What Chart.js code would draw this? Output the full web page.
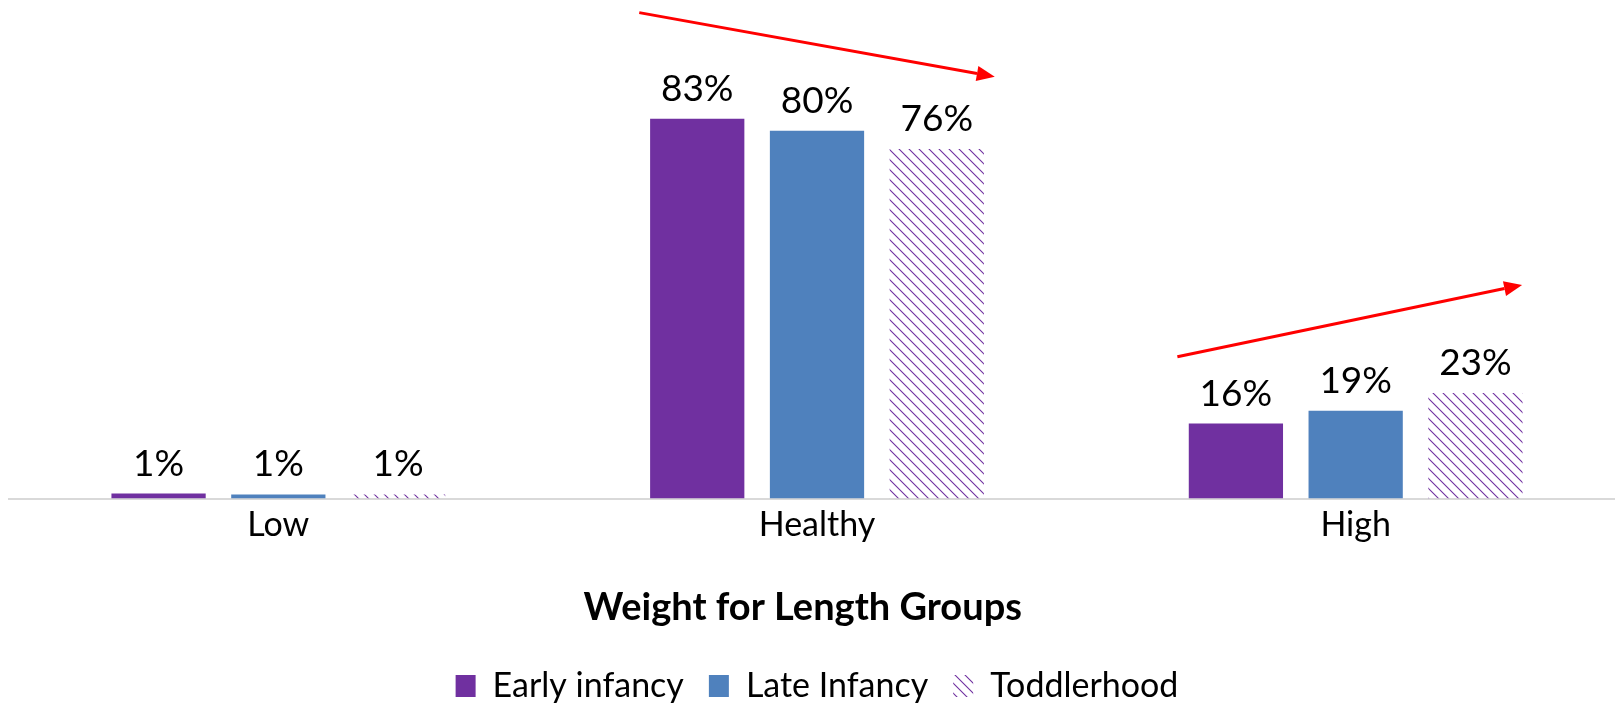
<!DOCTYPE html>
<html>
<head>
<meta charset="utf-8">
<script src="https://cdn.jsdelivr.net/npm/chart.js@4"></script>
<style>
  html, body { margin: 0; padding: 0; background: #fff; overflow: hidden; }
  canvas { display: block; }
</style>
</head>
<body>
<canvas id="weightChart" width="1625" height="713"></canvas>
<script>
// categories and values (percent of children)
var groups = ['Low', 'Healthy', 'High'];
var earlyInfancy = [1.1, 83.0, 16.4];
var lateInfancy = [0.9, 80.4, 19.2];
var toddlerhood = [0.9, 76.4, 23.1];
var seriesNames = ['Early infancy', 'Late Infancy', 'Toddlerhood'];

// trend arrows: [start category, start value, end category, end value]
var trendArrows = [
    [0.67, 106.2, 1.33, 92.2],
    [1.669, 31.0, 2.309, 46.7]
];

// hatch pattern for the toddler bars
function makeHatch(color) {
    var s = 10;
    var c = document.createElement('canvas');
    c.width = s; c.height = s;
    var g = c.getContext('2d');
    g.strokeStyle = color;
    g.lineWidth = 1.1;
    g.beginPath();
    g.moveTo(0, 0); g.lineTo(s, s);
    g.moveTo(-2, s - 2); g.lineTo(2, s + 2);
    g.moveTo(s - 2, -2); g.lineTo(s + 2, 2);
    g.stroke();
    return g.createPattern(c, 'repeat');
}

// labels on top of bars + red arrows
var extrasPlugin = {
    id: 'extras',
    afterDatasetsDraw: function (chart) {
        var ctx = chart.ctx;
        ctx.save();
        ctx.fillStyle = '#000';
        ctx.font = '37px Lato';
        ctx.textAlign = 'center';
        ctx.textBaseline = 'alphabetic';
        chart.data.datasets.forEach(function (ds, i) {
            chart.getDatasetMeta(i).data.forEach(function (bar, j) {
                ctx.fillText(Math.round(ds.data[j]) + '%', bar.x, bar.y - 18);
            });
        });

        var xs = chart.scales.x, ys = chart.scales.y;
        ctx.strokeStyle = '#ff0000';
        ctx.fillStyle = '#ff0000';
        ctx.lineWidth = 3;
        trendArrows.forEach(function (a) {
            var x1 = xs.getPixelForValue(a[0]), y1 = ys.getPixelForValue(a[1]);
            var x2 = xs.getPixelForValue(a[2]), y2 = ys.getPixelForValue(a[3]);
            var ang = Math.atan2(y2 - y1, x2 - x1);
            var head = 18, half = 7.5;
            var bx = x2 - head * Math.cos(ang), by = y2 - head * Math.sin(ang);
            ctx.beginPath();
            ctx.moveTo(x1, y1);
            ctx.lineTo(bx, by);
            ctx.stroke();
            ctx.beginPath();
            ctx.moveTo(x2, y2);
            ctx.lineTo(bx + half * Math.sin(ang), by - half * Math.cos(ang));
            ctx.lineTo(bx - half * Math.sin(ang), by + half * Math.cos(ang));
            ctx.closePath();
            ctx.fill();
        });
        ctx.restore();
    }
};

var ctx = document.getElementById('weightChart').getContext('2d');
var weightChart = new Chart(ctx, {
    type: 'bar',
    data: {
        labels: groups,
        datasets: [{
            label: seriesNames[0],
            data: earlyInfancy,
            backgroundColor: '#7030a0',
            borderWidth: 0
        }, {
            label: seriesNames[1],
            data: lateInfancy,
            backgroundColor: '#4f81bd',
            borderWidth: 0
        }, {
            label: seriesNames[2],
            data: toddlerhood,
            backgroundColor: makeHatch('#7030a0'),
            borderWidth: 0
        }]
    },
    options: {
        responsive: false,
        animation: false,
        devicePixelRatio: 1,
        categoryPercentage: 0.667,
        barPercentage: 0.787,
        layout: {
            padding: { top: 41, left: 9, right: 0, bottom: 0 }
        },
        scales: {
            x: {
                grid: { display: false },
                border: { display: true, color: '#d9d9d9', width: 2 },
                ticks: {
                    color: '#000',
                    font: { family: 'Lato', size: 34 },
                    padding: -2
                },
                title: {
                    display: true,
                    // trailing em space shifts the centred title a bit left, as in the original
                    text: 'Weight for Length Groups\u2003',
                    color: '#000',
                    font: { family: 'Lato', size: 38, weight: 'bold' },
                    padding: { top: 42, bottom: 13 }
                }
            },
            y: {
                display: false,
                min: 0,
                max: 100
            }
        },
        plugins: {
            legend: {
                position: 'bottom',
                labels: {
                    color: '#000',
                    font: { family: 'Lato', size: 34 },
                    boxWidth: 20,
                    boxHeight: 22,
                    padding: 25
                }
            },
            tooltip: { enabled: false }
        }
    },
    plugins: [extrasPlugin]
});
</script>
</body>
</html>
